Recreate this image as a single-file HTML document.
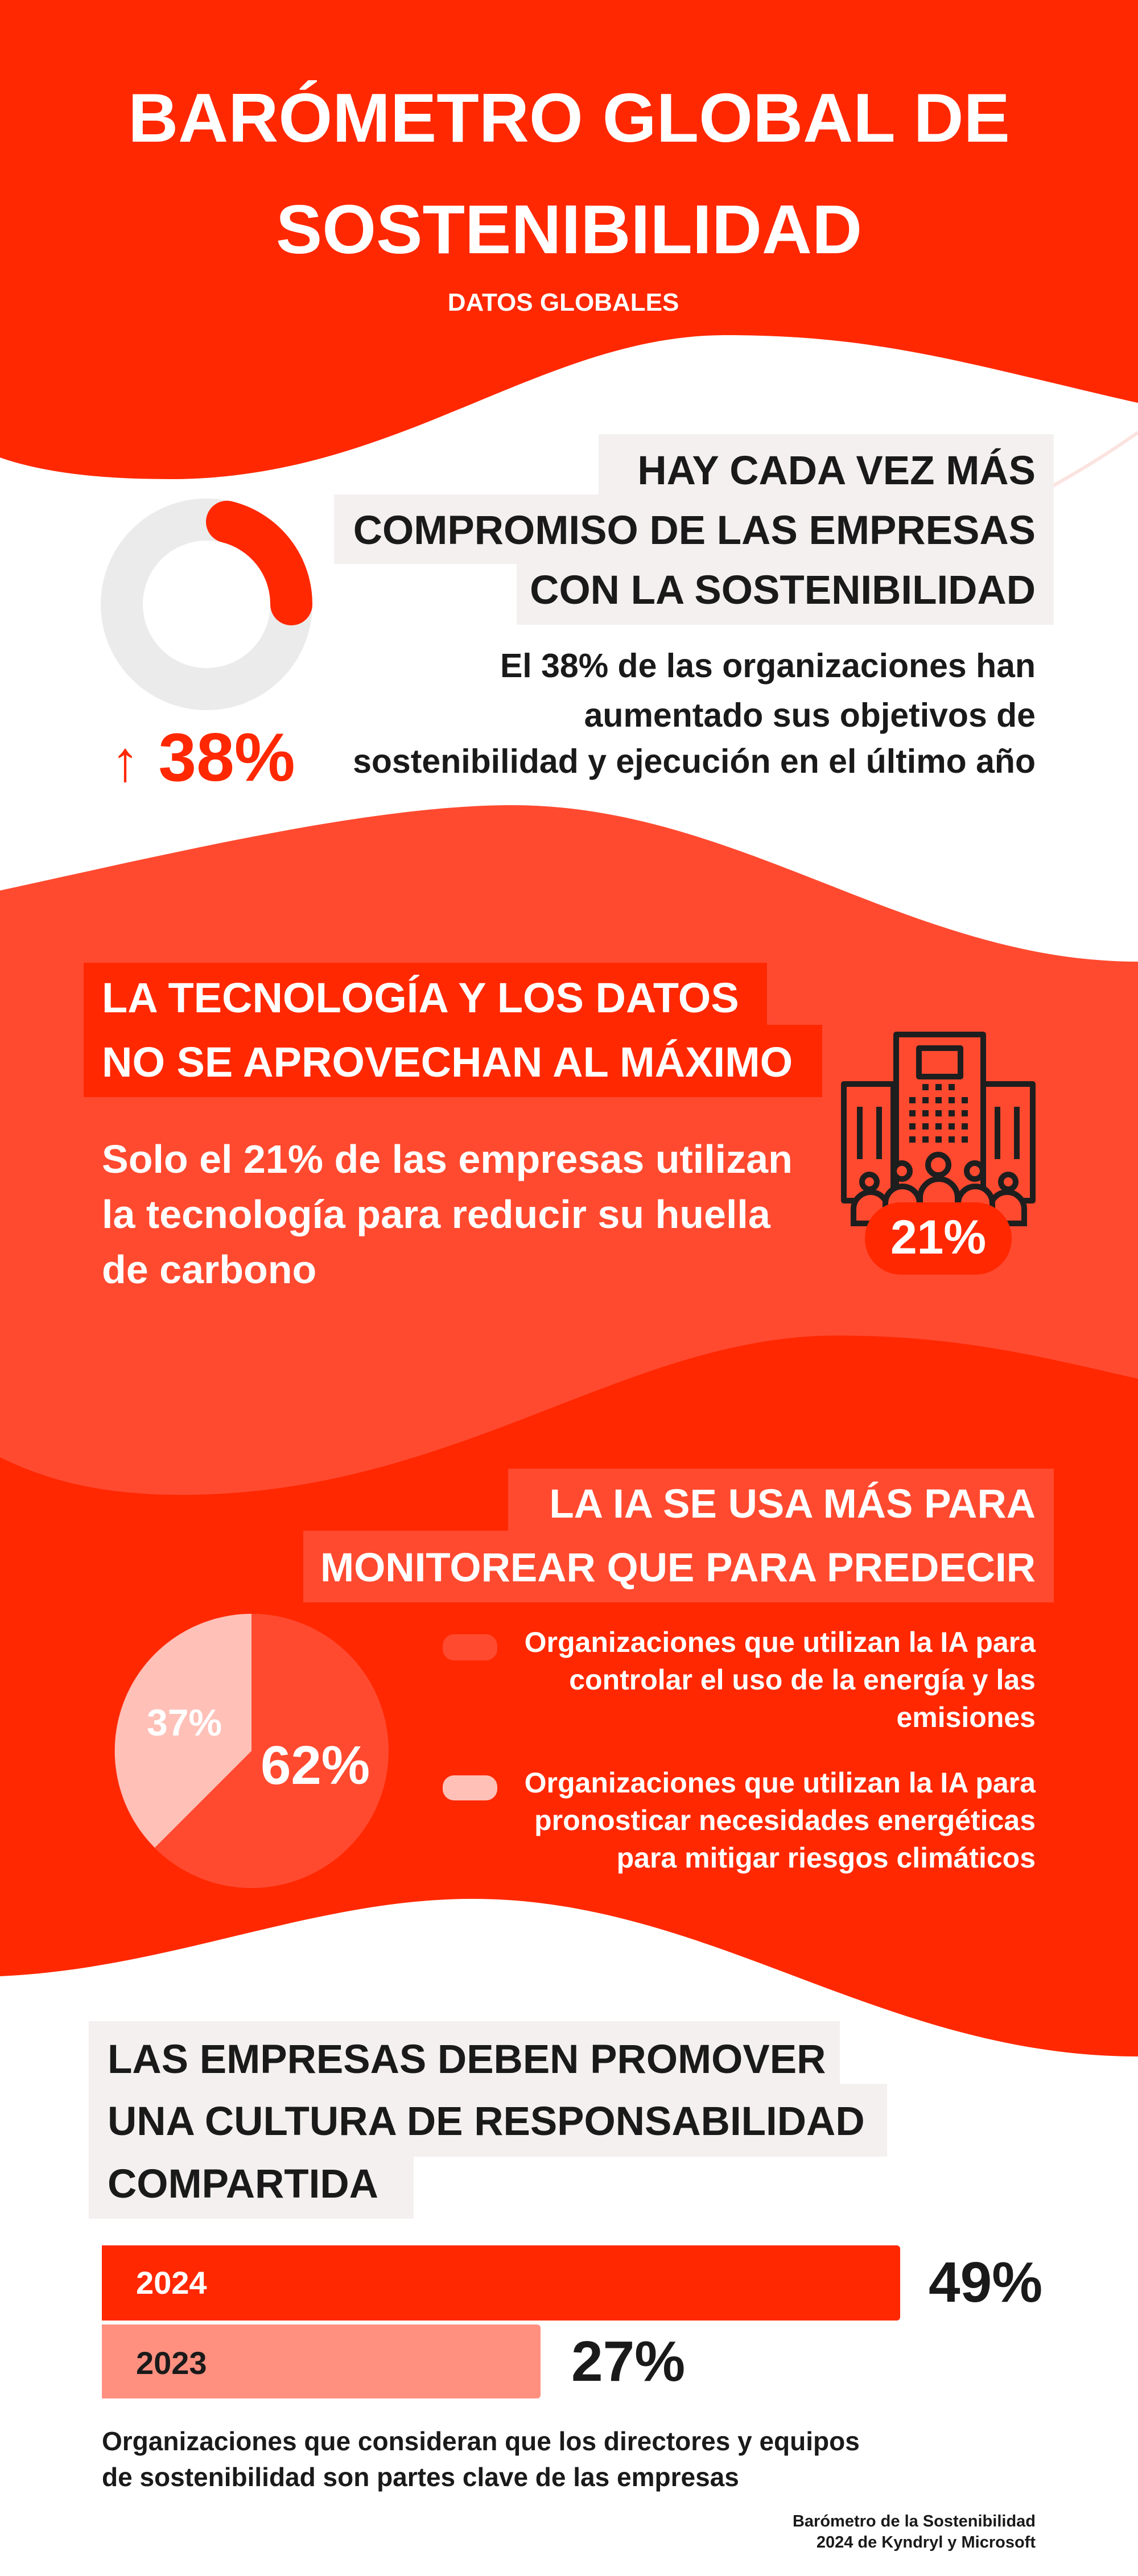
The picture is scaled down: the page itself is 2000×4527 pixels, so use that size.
<!DOCTYPE html>
<html><head><meta charset="utf-8">
<style>
html,body{margin:0;padding:0}
body{width:2000px;height:4527px;position:relative;overflow:hidden;background:#fff;font-family:"Liberation Sans",Arial,sans-serif;font-weight:bold}
.t{position:absolute;white-space:nowrap;line-height:1}
.r{right:180px;text-align:right}
</style></head><body>
<svg width="2000" height="4527" style="position:absolute;left:0;top:0">
<path d="M0,0 H2000 V708 C1700,640 1550,589 1275,589 C950,589 700,842 300,842 C150,842 60,825 0,804 Z" fill="#ff2800"/>
<path d="M2000,760 C1800,900 1600,980 1450,985" fill="none" stroke="#fbe3e0" stroke-width="6"/>
<path d="M0,1565 C300,1500 650,1415 900,1415 C1300,1415 1600,1690 2000,1690 V2700 H0 Z" fill="#ff4a30"/>
<path d="M0,2561 C100,2610 200,2627 320,2627 C800,2627 1100,2347 1470,2347 C1700,2347 1850,2390 2000,2423 V3700 H0 Z" fill="#ff2800"/>
<path d="M0,3473 C300,3460 550,3337 830,3337 C1250,3337 1550,3614 2000,3614 V4527 H0 Z" fill="#fff"/>
<circle cx="363" cy="1062" r="149" fill="none" stroke="#ebebeb" stroke-width="74"/>
<path d="M399,917 A149,149 0 0 1 512,1062" fill="none" stroke="#ff2800" stroke-width="74" stroke-linecap="round"/>
<rect x="1052" y="763" width="800" height="107" fill="#f3f0ef"/>
<rect x="587" y="869" width="1265" height="122" fill="#f3f0ef"/>
<rect x="908" y="990" width="944" height="108" fill="#f3f0ef"/>
<rect x="147" y="1692" width="1201" height="110" fill="#ff2800"/>
<rect x="147" y="1801" width="1298" height="127" fill="#ff2800"/>
<g fill="none" stroke="#1e1e1e" stroke-width="10" stroke-linejoin="round">
<rect x="1483" y="1905" width="87" height="205"/>
<rect x="1728" y="1905" width="87" height="205"/>
<rect x="1575" y="1818" width="153" height="290" fill="#ff4a30"/>
<rect x="1615" y="1842" width="73" height="50"/>
</g>
<g fill="#1e1e1e">
<rect x="1506" y="1945" width="10" height="92"/><rect x="1540" y="1945" width="10" height="92"/>
<rect x="1748" y="1945" width="10" height="92"/><rect x="1782" y="1945" width="10" height="92"/>
<rect x="1621" y="1905" width="11" height="11"/><rect x="1644" y="1905" width="11" height="11"/><rect x="1667" y="1905" width="11" height="11"/>
<rect x="1598" y="1928" width="11" height="11"/><rect x="1621" y="1928" width="11" height="11"/><rect x="1644" y="1928" width="11" height="11"/><rect x="1667" y="1928" width="11" height="11"/><rect x="1690" y="1928" width="11" height="11"/>
<rect x="1598" y="1951" width="11" height="11"/><rect x="1621" y="1951" width="11" height="11"/><rect x="1644" y="1951" width="11" height="11"/><rect x="1667" y="1951" width="11" height="11"/><rect x="1690" y="1951" width="11" height="11"/>
<rect x="1598" y="1974" width="11" height="11"/><rect x="1621" y="1974" width="11" height="11"/><rect x="1644" y="1974" width="11" height="11"/><rect x="1667" y="1974" width="11" height="11"/><rect x="1690" y="1974" width="11" height="11"/>
<rect x="1598" y="1997" width="11" height="11"/><rect x="1621" y="1997" width="11" height="11"/><rect x="1644" y="1997" width="11" height="11"/><rect x="1667" y="1997" width="11" height="11"/><rect x="1690" y="1997" width="11" height="11"/>
</g>
<g fill="#ff4a30" stroke="#1e1e1e" stroke-width="10">
<path d="M1500,2150 V2125 A30,30 0 0 1 1560,2125 V2150 Z"/>
<path d="M1740,2150 V2125 A30,30 0 0 1 1800,2125 V2150 Z"/>
<circle cx="1528" cy="2077" r="13"/><circle cx="1772" cy="2077" r="13"/>
<path d="M1556,2150 V2115 A30,30 0 0 1 1616,2115 V2150 Z"/>
<path d="M1684,2150 V2115 A30,30 0 0 1 1744,2115 V2150 Z"/>
<circle cx="1585" cy="2058" r="14"/><circle cx="1713" cy="2058" r="14"/>
<path d="M1617,2150 V2105 A33,33 0 0 1 1683,2105 V2150 Z"/>
<circle cx="1649" cy="2047" r="18"/>
</g>
<rect x="1520" y="2113" width="258" height="127" rx="63" fill="#ff2800"/>
<rect x="893" y="2581" width="959" height="110" fill="#ff4a30"/>
<rect x="533" y="2690" width="1319" height="126" fill="#ff4a30"/>
<rect x="778" y="2872" width="96" height="46" rx="20" fill="#ff4a30"/>
<rect x="778" y="3120" width="96" height="44" rx="20" fill="#ffc0b8"/>
<circle cx="442" cy="3077" r="241" fill="#ff4a30"/>
<path d="M442,3077 L442,2836 A241,241 0 0 0 272,3247 Z" fill="#ffc0b8"/>
<rect x="156" y="3552" width="1320" height="111" fill="#f3f0ef"/>
<rect x="156" y="3662" width="1403" height="128" fill="#f3f0ef"/>
<rect x="156" y="3789" width="571" height="110" fill="#f3f0ef"/>
<rect x="179" y="3946" width="1403" height="132" rx="6" fill="#ff2800"/>
<rect x="179" y="3946" width="40" height="132" fill="#ff2800"/>
<rect x="179" y="4085" width="771" height="130" rx="6" fill="#ff9080"/>
<rect x="179" y="4085" width="40" height="130" fill="#ff9080"/>
</svg>

<div class="t" style="left:0;width:2000px;text-align:center;top:146px;font-size:122px;color:#fff">BARÓMETRO GLOBAL DE</div>
<div class="t" style="left:0;width:2000px;text-align:center;top:342px;font-size:122px;color:#fff">SOSTENIBILIDAD</div>
<div class="t" style="left:0;width:1980px;text-align:center;top:510px;font-size:44px;color:#fff">DATOS GLOBALES</div>

<div class="t r" style="top:792px;font-size:71px;color:#1a1a1a">HAY CADA VEZ MÁS</div>
<div class="t r" style="top:897px;font-size:71px;color:#1a1a1a">COMPROMISO DE LAS EMPRESAS</div>
<div class="t r" style="top:1002px;font-size:71px;color:#1a1a1a">CON LA SOSTENIBILIDAD</div>
<div class="t r" style="top:1141px;font-size:59px;color:#1a1a1a">El 38% de las organizaciones han</div>
<div class="t r" style="top:1228px;font-size:59px;color:#1a1a1a">aumentado sus objetivos de</div>
<div class="t r" style="top:1309px;font-size:59px;color:#1a1a1a">sostenibilidad y ejecución en el último año</div>
<div class="t" style="left:195px;top:1271px;font-size:120px;color:#ff2800"><span style="font-weight:normal;font-size:100px">↑</span> 38%</div>

<div class="t" style="left:179px;top:1717px;font-size:74px;color:#fff">LA TECNOLOGÍA Y LOS DATOS</div>
<div class="t" style="left:179px;top:1830px;font-size:74px;color:#fff">NO SE APROVECHAN AL MÁXIMO</div>
<div class="t" style="left:179px;top:2002px;font-size:70px;color:#fff">Solo el 21% de las empresas utilizan</div>
<div class="t" style="left:179px;top:2099px;font-size:70px;color:#fff">la tecnología para reducir su huella</div>
<div class="t" style="left:179px;top:2196px;font-size:70px;color:#fff">de carbono</div>
<div class="t" style="left:1520px;width:258px;text-align:center;top:2132px;font-size:84px;color:#fff">21%</div>

<div class="t r" style="top:2608px;font-size:71px;color:#fff">LA IA SE USA MÁS PARA</div>
<div class="t r" style="top:2720px;font-size:71px;color:#fff">MONITOREAR QUE PARA PREDECIR</div>
<div class="t r" style="top:2861px;font-size:50px;color:#fff">Organizaciones que utilizan la IA para</div>
<div class="t r" style="top:2927px;font-size:50px;color:#fff">controlar el uso de la energía y las</div>
<div class="t r" style="top:2993px;font-size:50px;color:#fff">emisiones</div>
<div class="t r" style="top:3108px;font-size:50px;color:#fff">Organizaciones que utilizan la IA para</div>
<div class="t r" style="top:3174px;font-size:50px;color:#fff">pronosticar necesidades energéticas</div>
<div class="t r" style="top:3240px;font-size:50px;color:#fff">para mitigar riesgos climáticos</div>
<div class="t" style="left:258px;top:2994px;font-size:66px;color:#fff">37%</div>
<div class="t" style="left:458px;top:3055px;font-size:96px;color:#fff">62%</div>

<div class="t" style="left:189px;top:3584px;font-size:71px;color:#1a1a1a">LAS EMPRESAS DEBEN PROMOVER</div>
<div class="t" style="left:189px;top:3693px;font-size:71px;color:#1a1a1a">UNA CULTURA DE RESPONSABILIDAD</div>
<div class="t" style="left:189px;top:3803px;font-size:71px;color:#1a1a1a">COMPARTIDA</div>

<div class="t" style="left:239px;top:3984px;font-size:56px;color:#fff">2024</div>
<div class="t" style="left:239px;top:4125px;font-size:56px;color:#1a1a1a">2023</div>
<div class="t" style="left:1632px;top:3961px;font-size:100px;color:#1a1a1a">49%</div>
<div class="t" style="left:1004px;top:4100px;font-size:100px;color:#1a1a1a">27%</div>

<div class="t" style="left:179px;top:4267px;font-size:46px;color:#1a1a1a">Organizaciones que consideran que los directores y equipos</div>
<div class="t" style="left:179px;top:4330px;font-size:46px;color:#1a1a1a">de sostenibilidad son partes clave de las empresas</div>
<div class="t r" style="top:4417px;font-size:29px;color:#1a1a1a">Barómetro de la Sostenibilidad</div>
<div class="t r" style="top:4454px;font-size:29px;color:#1a1a1a">2024 de Kyndryl y Microsoft</div>
</body></html>
